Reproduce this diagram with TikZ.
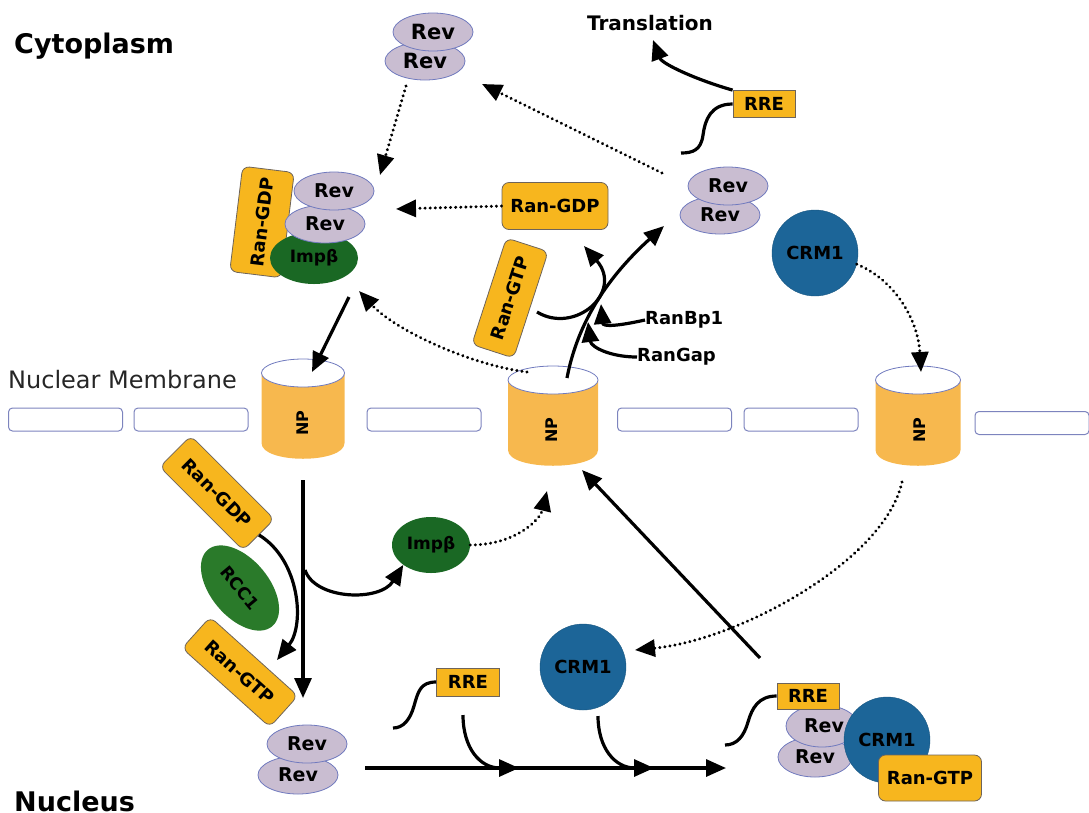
\documentclass[tikz,border=0pt]{standalone}
\usepackage{fontspec}
\setmainfont{DejaVu Sans}
\usetikzlibrary{arrows.meta,shapes.geometric}
\definecolor{ranorange}{RGB}{247,182,30}
\definecolor{nporange}{RGB}{247,184,78}
\definecolor{revlilac}{RGB}{201,189,209}
\definecolor{revline}{RGB}{112,122,190}
\definecolor{impgreen}{RGB}{26,104,36}
\definecolor{rccgreen}{RGB}{42,122,42}
\definecolor{crmblue}{RGB}{28,101,152}
\definecolor{boxline}{RGB}{110,100,90}
\definecolor{membline}{RGB}{125,132,190}
\begin{document}
\begin{tikzpicture}[x=1pt, y=-1pt,
    fnt/.style={font=\fontsize{#1}{#1}\selectfont\bfseries},
    rev/.style={ellipse, draw=revline, line width=0.8pt, fill=revlilac, minimum width=80pt, minimum height=38pt, inner sep=0pt, fnt=19},
    ranbox/.style={rectangle, rounded corners=7pt, draw=boxline, line width=0.8pt, fill=ranorange, minimum width=118pt, minimum height=42pt, inner sep=0pt, fnt=18},
    rre/.style={rectangle, draw=boxline, line width=0.8pt, fill=ranorange, minimum width=62pt, minimum height=27pt, inner sep=0pt, fnt=18},
    crm/.style={circle, fill=crmblue, draw=crmblue!85!black, minimum size=86pt, inner sep=0pt, fnt=18},
    imp/.style={ellipse, fill=impgreen, minimum width=88pt, minimum height=52pt, inner sep=0pt, fnt=17},
    memb/.style={rectangle, rounded corners=4pt, draw=membline, line width=1pt, fill=white, minimum width=114pt, minimum height=23pt},
    arr/.style={line width=3.2pt, -{Triangle[length=20pt,width=17pt]}},
    dotarr/.style={arr, line cap=round, dash pattern=on 0.1pt off 5pt},
    wire/.style={line width=3.2pt}
  ]
  \useasboundingbox (0,0) rectangle (1089,812);

  \foreach \mx/\my [count=\i] in {65.5/419.5, 191/419.5, 424/419.5, 674.5/419.5, 801/419.5, 1032/423}
    \node[memb] (memb\i) at (\mx,\my) {};

  \foreach \cx/\cy/\rx in {303/373/41.5, 553/380/45, 918/380/42.5} {
    \fill[nporange] (\cx-\rx,\cy) -- (\cx-\rx,\cy+70) .. controls (\cx-\rx,\cy+91) and (\cx+\rx,\cy+91) .. (\cx+\rx,\cy+70) -- (\cx+\rx,\cy) -- cycle;
    \draw[revline, line width=0.8pt, fill=white] (\cx,\cy) ellipse [x radius=\rx, y radius=14];
  }
  \node[fnt=16, rotate=90] (np1) at (303,423) {NP};
  \node[fnt=16, rotate=90] (np2) at (552,430) {NP};
  \node[fnt=16, rotate=90] (np3) at (920,430) {NP};

  \node[fnt=27, anchor=base west, inner sep=0pt] (cyto) at (14,53) {Cytoplasm};
  \node[font=\fontsize{24}{24}\selectfont, anchor=base west, inner sep=0pt, text=black!85] (numem) at (8,388) {Nuclear Membrane};
  \node[fnt=27, anchor=base west, inner sep=0pt] (nucl) at (14,811) {Nucleus};
  \node[fnt=20, anchor=base, inner sep=0pt] (transl) at (650,30) {Translation};

  \node[rev, fnt=21] (revT2) at (425,61) {Rev};
  \node[rev, fnt=21] (revT1) at (433,32) {Rev};
  \node[rev] (revR2) at (720,215) {Rev};
  \node[rev] (revR1) at (728,186) {Rev};
  \node[rre] (rreT) at (764,104) {RRE};
  \node[crm] (crmT) at (815,253) {CRM1};

  \node[ranbox, rotate=83, minimum width=106pt, minimum height=52pt] (gdpL) at (262,222) {Ran-GDP};
  \node[imp] (impC) at (314,258) {Impβ};
  \node[rev] (revL2) at (325,224) {Rev};
  \node[rev] (revL1) at (334,191) {Rev};

  \node[ranbox, minimum width=106pt, minimum height=47pt] (gdpC) at (555,206) {Ran-GDP};
  \node[ranbox, rotate=72, minimum width=112pt, minimum height=44pt] (gtpC) at (510,298) {Ran-GTP};
  \node[fnt=18, anchor=west, inner sep=0pt] (ranbp) at (645,320) {RanBp1};
  \node[fnt=18, anchor=west, inner sep=0pt] (rangap) at (637,357) {RanGap};

  \node[ranbox, rotate=-45, minimum height=44pt] (gdpN) at (217,493) {Ran-GDP};
  \node[ellipse, fill=rccgreen, rotate=-50, minimum width=100pt, minimum height=58pt, inner sep=0pt, fnt=17] (rcc) at (240,588) {RCC1};
  \node[ranbox, rotate=-42, minimum height=42pt] (gtpN) at (240,672) {Ran-GTP};
  \node[imp, minimum width=78pt, minimum height=56pt] (impN) at (431,545) {Impβ};
  \node[rev] (revB2) at (298,775) {Rev};
  \node[rev] (revB1) at (307,744) {Rev};
  \node[crm] (crmN) at (583,667) {CRM1};
  \node[rre, minimum width=63pt, minimum height=28pt] (rreN) at (468,682) {RRE};

  \node[rev, minimum width=74pt, minimum height=40pt] (revX2) at (815,757) {Rev};
  \node[rev, minimum width=72pt, minimum height=42pt] (revX1) at (822,726) {\hspace*{4pt}Rev};
  \node[rre, minimum height=26pt] (rreX) at (808,696) {RRE};
  \node[crm] (crmX) at (887,740) {CRM1};
  \node[ranbox, minimum width=103pt, minimum height=46pt] (gtpX) at (930,778) {Ran-GTP};

  \coordinate (trhead) at (653,40);
  \coordinate (rreTend) at (681,153);
  \coordinate (revRtail) at (662,173);
  \coordinate (revThead) at (482,84);
  \coordinate (gdpChead) at (396,209);
  \coordinate (revTtail) at (406,86);
  \coordinate (cplxhead) at (380,175);
  \coordinate (np2back) at (527,372);
  \coordinate (impChead) at (359,291);
  \coordinate (impCtail) at (349,297);
  \coordinate (np1head) at (312,372);
  \coordinate (np2tail) at (567,378);
  \coordinate (revRhead) at (664,226);
  \coordinate (gtpCtail) at (537,312);
  \coordinate (gdpCup) at (584,246);
  \coordinate (bp1head) at (601,304);
  \coordinate (gaphead) at (588,322);
  \coordinate (np3head) at (921,372);
  \coordinate (np1tail) at (303,480);
  \coordinate (revBhead) at (303,698);
  \coordinate (gtpNhead) at (277,660);
  \coordinate (impNtail) at (305,570);
  \coordinate (np2head) at (547,491);
  \coordinate (cplxtail) at (760,658);
  \coordinate (np2bhead) at (582,470);
  \coordinate (np3tail) at (902,482);
  \coordinate (crmNhead) at (635,650);
  \coordinate (revBtail) at (365,768);
  \coordinate (cplxend) at (726,768);
  \coordinate (rreNtail) at (463,715);
  \coordinate (rreNhead) at (519,768);
  \coordinate (crmNtail) at (598,716);
  \coordinate (crmNhd) at (654,768);
  \coordinate (rreNend) at (393,728);
  \coordinate (rreXend) at (725,745);

  \draw[arr] (rreT.north west) .. controls (697,80) and (662,64) .. (trhead);
  \draw[wire] (rreT.west) .. controls +(-22,0) and +(2,-15) .. (703,135) .. controls +(-2,15) and +(12,0) .. (rreTend);
  \draw[dotarr] (revRtail) -- (revThead);
  \draw[dotarr] (gdpC.west) -- (gdpChead);
  \draw[dotarr] (revTtail) -- (cplxhead);
  \draw[dotarr] (np2back) .. controls (470,365) and (395,330) .. (impChead);
  \draw[arr] (impCtail) -- (np1head);
  \draw[arr] (np2tail) .. controls (578,320) and (610,275) .. (revRhead);
  \draw[arr] (gtpCtail) .. controls (575,335) and (624,292) .. (gdpCup);
  \draw[arr] (ranbp.west) .. controls (618,326) and (603,327) .. (bp1head);
  \draw[arr] (rangap.west) .. controls (610,357) and (591,347) .. (gaphead);
  \draw[dotarr] (crmT.-15) .. controls (895,280) and (918,320) .. (np3head);

  \draw[arr] (np1tail) -- (revBhead);
  \draw[arr] (gdpN.east) .. controls (300,560) and (305,625) .. (gtpNhead);
  \draw[arr] (impNtail) .. controls (315,600) and (380,602) .. (impN.south west);
  \draw[dotarr] (impN.east) .. controls (515,545) and (540,520) .. (np2head);
  \draw[arr] (cplxtail) -- (np2bhead);
  \draw[dotarr] (np3tail) .. controls (885,560) and (740,640) .. (crmNhead);
  \draw[arr] (revBtail) -- (cplxend);
  \draw[arr] (rreNtail) .. controls (463,748) and (480,768) .. (rreNhead);
  \draw[arr] (crmNtail) .. controls (598,748) and (615,768) .. (crmNhd);
  \draw[wire] (rreN.west) .. controls +(-16,0) and +(4,-14) .. (414,706) .. controls +(-4,14) and +(10,0) .. (rreNend);
  \draw[wire] (rreX.west) .. controls +(-18,0) and +(4,-14) .. (748,722) .. controls +(-4,14) and +(12,0) .. (rreXend);
\end{tikzpicture}
\end{document}
